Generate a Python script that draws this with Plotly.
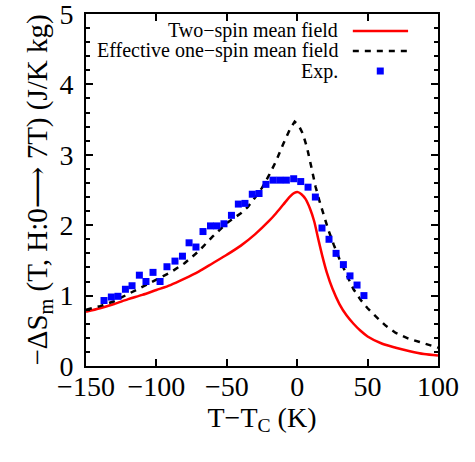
import plotly.graph_objects as go

# Two-spin mean field (red solid)
two_T = [-150, -140, -130, -120, -110, -100, -90, -80, -70, -60, -50, -40, -30, -20, -15, -10,
         -5, -2, 0.5, 3, 6, 9, 12, 15, 18, 21, 25, 30, 35, 40, 45, 50, 60, 70, 80, 90, 100]
two_V = [0.77, 0.82, 0.88, 0.95, 1.01, 1.08, 1.15, 1.24, 1.34, 1.46, 1.58, 1.71, 1.87, 2.06,
         2.17, 2.29, 2.41, 2.46, 2.47, 2.44, 2.37, 2.24, 2.06, 1.80, 1.55, 1.33, 1.10, 0.88,
         0.72, 0.60, 0.50, 0.42, 0.32, 0.26, 0.21, 0.17, 0.15]

# Effective one-spin mean field (black dashed)
eff_T = [-150, -140, -130, -120, -110, -100, -90, -80, -70, -60, -50, -40, -35, -30, -25, -20,
         -15, -10, -5, -1.8, 1, 4, 7, 10, 13, 16, 19, 22, 26, 30, 35, 40, 45, 50, 56, 63, 70,
         79, 87, 96, 100]
eff_V = [0.80, 0.85, 0.92, 1.02, 1.12, 1.22, 1.33, 1.46, 1.63, 1.84, 2.03, 2.17, 2.26, 2.39,
         2.53, 2.71, 2.91, 3.15, 3.37, 3.47, 3.42, 3.30, 3.10, 2.83, 2.55, 2.33, 2.13, 1.94,
         1.72, 1.52, 1.30, 1.09, 0.94, 0.82, 0.70, 0.57, 0.47, 0.39, 0.34, 0.28, 0.26]

# Experimental points (blue squares)
exp_T = [-137.2, -132, -127.3, -122, -117.3, -112.1, -107.4, -102.4, -97.4, -92.5, -86.8,
         -81.5, -76.8, -71.9, -66.9, -61.6, -57, -52, -46.7, -41.8, -37.1, -31.9, -27.1,
         -22.2, -17.2, -12.4, -7.7, -2.5, 2.5, 7.7, 12.9, 17.6, 22.6, 27.6, 32.8, 37.5,
         42.5, 47.4]
exp_V = [0.93, 0.98, 0.99, 1.09, 1.14, 1.29, 1.20, 1.33, 1.20, 1.41, 1.49, 1.56, 1.75, 1.69,
         1.91, 1.99, 1.99, 2.02, 2.14, 2.30, 2.31, 2.44, 2.45, 2.58, 2.64, 2.64, 2.64, 2.66,
         2.62, 2.54, 2.40, 1.96, 1.80, 1.60, 1.44, 1.28, 1.15, 1.00]

legend_labels = ["Two\u2212spin mean field", "Effective one\u2212spin mean field", "Exp."]
x_ticks = [-150, -100, -50, 0, 50, 100]
x_tick_text = ["\u2212150", "\u2212100", "\u221250", "0", "50", "100"]
y_ticks = [0, 1, 2, 3, 4, 5]

FONT = "Times New Roman, Liberation Serif, DejaVu Serif, serif"
RED = "#ff0000"
BLUE = "#0000ff"

fig = go.Figure()
fig.add_trace(go.Scatter(x=two_T, y=two_V, mode="lines",
                         line=dict(color=RED, width=2.5, shape="spline", smoothing=0.8),
                         showlegend=False, hoverinfo="skip"))
fig.add_trace(go.Scatter(x=eff_T, y=eff_V, mode="lines",
                         line=dict(color="black", width=2.5, dash="6px,6px"),
                         showlegend=False, hoverinfo="skip"))
fig.add_trace(go.Scatter(x=exp_T, y=exp_V, mode="markers",
                         marker=dict(color=BLUE, symbol="square", size=7, line=dict(width=0)),
                         showlegend=False, hoverinfo="skip"))

# gnuplot-style key (text left of sample), drawn in a [0,1] overlay frame
key_rows = [0.952, 0.895, 0.838]
key_text_right = 0.722
key_line = [0.758, 0.915]
key_mark = 0.836
for lab, yy in zip(legend_labels, key_rows):
    fig.add_annotation(x=key_text_right, y=yy, xref="paper", yref="paper", text=lab,
                       showarrow=False, xanchor="right", yanchor="middle",
                       font=dict(family=FONT, size=20, color="black"))
fig.add_trace(go.Scatter(x=key_line, y=[key_rows[0]] * 2, xaxis="x2", yaxis="y2", mode="lines",
                         line=dict(color=RED, width=2.5), showlegend=False, hoverinfo="skip"))
fig.add_trace(go.Scatter(x=key_line, y=[key_rows[1]] * 2, xaxis="x2", yaxis="y2", mode="lines",
                         line=dict(color="black", width=2.5, dash="6px,6px"),
                         showlegend=False, hoverinfo="skip"))
fig.add_trace(go.Scatter(x=[key_mark], y=[key_rows[2]], xaxis="x2", yaxis="y2", mode="markers",
                         marker=dict(color=BLUE, symbol="square", size=7, line=dict(width=0)),
                         showlegend=False, hoverinfo="skip"))

axis_common = dict(showline=True, linecolor="black", linewidth=2, mirror="allticks",
                   ticks="inside", tickcolor="black", tickwidth=1.5, ticklen=7,
                   showgrid=False, zeroline=False, automargin=False,
                   ticklabeloverflow="allow",
                   tickfont=dict(family=FONT, size=28, color="black"))
xaxis_cfg = dict(range=[-150, 100], tickvals=x_ticks, ticktext=x_tick_text,
                 ticklabelstandoff=-6,
                 title=dict(text="T\u2212T<sub>C</sub> (K)",
                            font=dict(family=FONT, size=28, color="black"), standoff=0),
                 **axis_common)
yaxis_cfg = dict(range=[0, 5], tickvals=y_ticks, ticklabelstandoff=5,
                 minor=dict(dtick=0.2, ticks="inside", ticklen=4, tickcolor="black", tickwidth=1.5),
                 title=dict(text="\u2212\u0394S<sub>m</sub> (T, H:0\u27f6 7T) (J/K kg)",
                            font=dict(family=FONT, size=29, color="black"), standoff=3),
                 **axis_common)
fig.update_layout(
    xaxis=xaxis_cfg,
    yaxis=yaxis_cfg,
    xaxis2=dict(overlaying="x", anchor="y2", range=[0, 1], visible=False, fixedrange=True),
    yaxis2=dict(overlaying="y", anchor="x2", range=[0, 1], visible=False, fixedrange=True),
    width=475, height=462, margin=dict(l=86, r=37, t=14, b=96),
    plot_bgcolor="white", paper_bgcolor="white", showlegend=False)
# remove the default page-body margin so the figure sits at the window's top-left corner
fig.write_html("out.html", config={"displayModeBar": False},
               post_script="document.body.style.margin='0';")
